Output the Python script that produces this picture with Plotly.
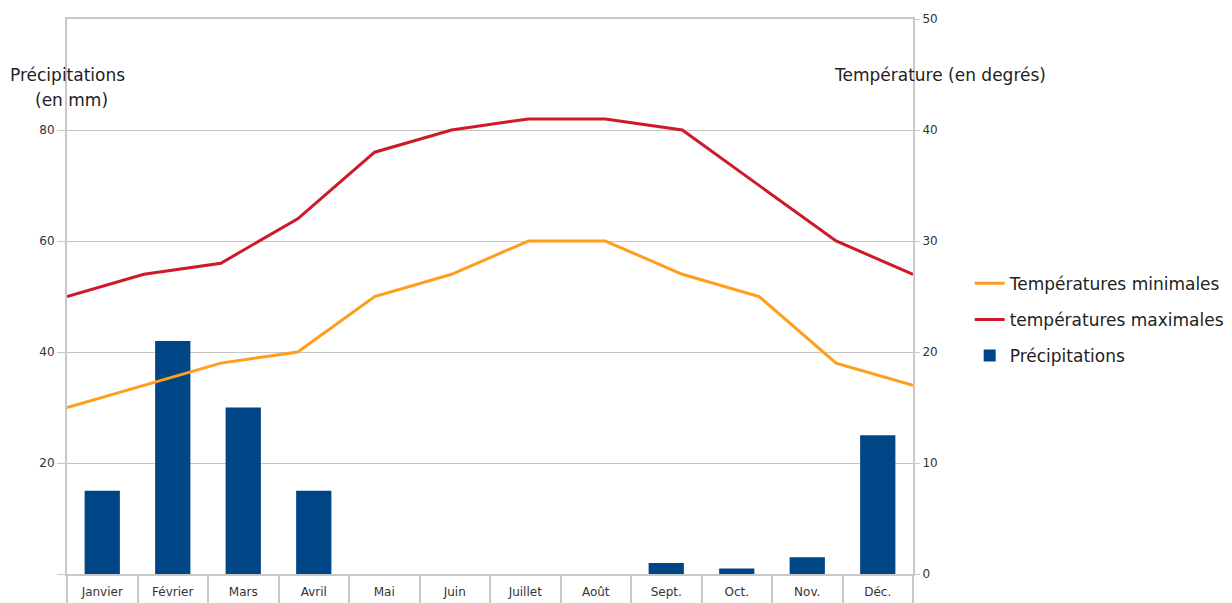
import plotly.graph_objects as go

months = ["Janvier", "Février", "Mars", "Avril", "Mai", "Juin", "Juillet",
          "Août", "Sept.", "Oct.", "Nov.", "Déc."]
precipitations = [15, 42, 30, 15, 0, 0, 0, 0, 2, 1, 3, 25]
temp_min = [15, 17, 19, 20, 25, 27, 30, 30, 27, 25, 19, 17]
temp_max = [25, 27, 28, 32, 38, 40, 41, 41, 40, 35, 30, 27]
left_ticks = [0, 20, 40, 60, 80]
left_labels = ["", "20", "40", "60", "80"]
right_ticks = [0, 10, 20, 30, 40, 50]

FONT = "DejaVu Sans"
GRID = "#c4c4c4"
AXIS = "#c8c8c8"

fig = go.Figure()
fig.add_trace(go.Bar(
    x=months, y=precipitations, name="Précipitations",
    marker=dict(color="#004586", line=dict(width=0)),
    legendgroup="c", legendrank=3,
))
fig.add_trace(go.Scatter(
    x=months, y=temp_min, name="Températures minimales", mode="lines",
    line=dict(color="#ff9e1b", width=3), xaxis="x2", yaxis="y2",
    legendgroup="a", legendrank=1,
))
fig.add_trace(go.Scatter(
    x=months, y=temp_max, name="températures maximales", mode="lines",
    line=dict(color="#cc1a28", width=3), xaxis="x2", yaxis="y2",
    legendgroup="b", legendrank=2,
))

# the page body adds an 8px offset; the figure is sized to compensate
fig.update_layout(
    width=1224, height=595,
    margin=dict(l=59, r=319, t=11, b=29, autoexpand=False),
    paper_bgcolor="white", plot_bgcolor="white",
    bargap=0.5,
    showlegend=True,
    font=dict(family=FONT, color="#222"),
    legend=dict(x=1.067, xanchor="left", y=0.458, yanchor="middle",
                font=dict(family=FONT, size=17, color="#222"),
                tracegroupgap=11, bgcolor="rgba(0,0,0,0)"),
    xaxis=dict(
        type="category", range=[-0.5, 11.5], automargin=False,
        showline=True, linecolor=AXIS, linewidth=2, mirror=True,
        showgrid=False, ticks="outside", tickson="boundaries",
        ticklen=30, tickcolor=AXIS, tickwidth=1.5,
        ticklabelstandoff=6,
        tickfont=dict(family=FONT, size=12, color="#333"),
    ),
    xaxis2=dict(
        type="category", range=[0, 11], overlaying="x", visible=False,
        automargin=False,
    ),
    yaxis=dict(
        range=[0, 100], tickvals=left_ticks, ticktext=left_labels,
        automargin=False,
        showline=True, linecolor=AXIS, linewidth=2,
        showgrid=True, gridcolor=GRID, gridwidth=1, zeroline=False,
        ticks="outside", ticklen=8, tickcolor=AXIS,
        tickfont=dict(family=FONT, size=12, color="#333"),
    ),
    yaxis2=dict(
        range=[0, 50], tickvals=right_ticks, overlaying="y", side="right",
        anchor="x", automargin=False,
        showline=True, linecolor=AXIS, linewidth=2,
        showgrid=False, zeroline=False,
        ticks="outside", ticklen=5, tickcolor=AXIS,
        tickfont=dict(family=FONT, size=12, color="#333"),
    ),
    annotations=[
        dict(text="Précipitations", xref="paper", yref="paper",
             x=0.001, y=0.899, xanchor="center", yanchor="middle",
             showarrow=False, font=dict(family=FONT, size=17, color="#222")),
        dict(text="(en mm)", xref="paper", yref="paper",
             x=0.005, y=0.854, xanchor="center", yanchor="middle",
             showarrow=False, font=dict(family=FONT, size=17, color="#222")),
        dict(text="Température (en degrés)", xref="paper", yref="paper",
             x=1.032, y=0.899, xanchor="center", yanchor="middle",
             showarrow=False, font=dict(family=FONT, size=17, color="#222")),
    ],
)

fig.write_html("out.html")
